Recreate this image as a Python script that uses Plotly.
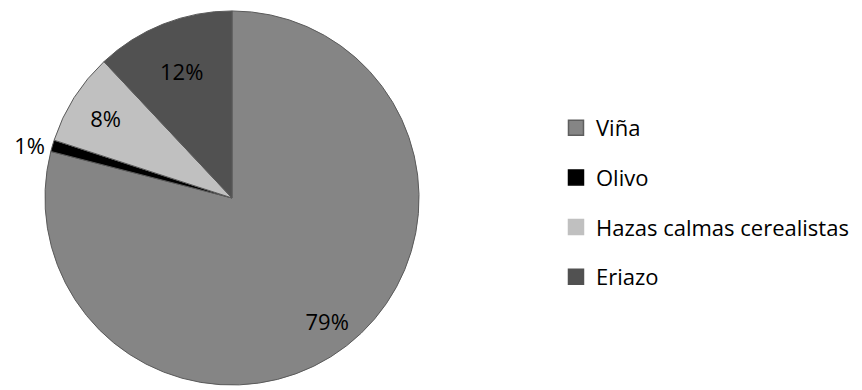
import plotly.graph_objects as go

categories = ["Viña", "Olivo", "Hazas calmas cerealistas", "Eriazo"]
values = [79, 1, 8, 12]
colors = ["#858585", "#000000", "#c0c0c0", "#515151"]
legend_line_colors = ["#5e5e5e", "#000000", "#c0c0c0", "#515151"]
# base pie labels (79% drawn by the ring overlay so it sits further out)
text_positions = ["none", "outside", "inside", "inside"]
ring_text_positions = ["inside", "none", "none", "none"]

W, H = 862, 390
cx, cy, r = 232, 199, 188
dom = dict(x=[(cx - r) / W, (cx + r) / W], y=[(H - cy - r) / H, (H - cy + r) / H])
label_font = dict(family="Open Sans", size=22, color="#000000")

fig = go.Figure()
fig.add_trace(go.Pie(
    labels=categories,
    values=values,
    sort=False,
    direction="clockwise",
    rotation=0,
    marker=dict(colors=colors, line=dict(color="#5a5a5a", width=1)),
    texttemplate="%{percent:.0%}",
    textposition=text_positions,
    insidetextorientation="horizontal",
    insidetextfont=label_font,
    outsidetextfont=label_font,
    showlegend=False,
    domain=dom,
    hoverinfo="label+percent",
))

# transparent ring overlay: only places the large slice's label further from centre
fig.add_trace(go.Pie(
    labels=categories,
    values=values,
    sort=False,
    direction="clockwise",
    rotation=0,
    hole=0.66,
    marker=dict(colors=["rgba(0,0,0,0)"] * len(values), line=dict(width=0)),
    texttemplate="%{percent:.0%}",
    textposition=ring_text_positions,
    insidetextorientation="horizontal",
    insidetextfont=label_font,
    showlegend=False,
    domain=dom,
    hoverinfo="skip",
))

for name, col, lc in zip(categories, colors, legend_line_colors):
    fig.add_trace(go.Scatter(
        x=[None], y=[None], mode="markers", name=name,
        marker=dict(symbol="square", size=15, color=col, line=dict(color=lc, width=1.5)),
        legendgroup=name, showlegend=True, hoverinfo="skip",
    ))

fig.update_layout(
    width=W, height=H,
    margin=dict(l=0, r=0, t=0, b=0),
    paper_bgcolor="white", plot_bgcolor="white",
    xaxis=dict(visible=False), yaxis=dict(visible=False),
    font=dict(family="Open Sans", size=22, color="#000000"),
    legend=dict(
        x=0.645, y=0.478, xanchor="left", yanchor="middle",
        font=dict(family="Open Sans", size=22, color="#000000"),
        tracegroupgap=18, bgcolor="rgba(0,0,0,0)",
    ),
)

fig.write_html("out.html", config={"displayModeBar": False},
               post_script="document.body.style.margin='0';")
